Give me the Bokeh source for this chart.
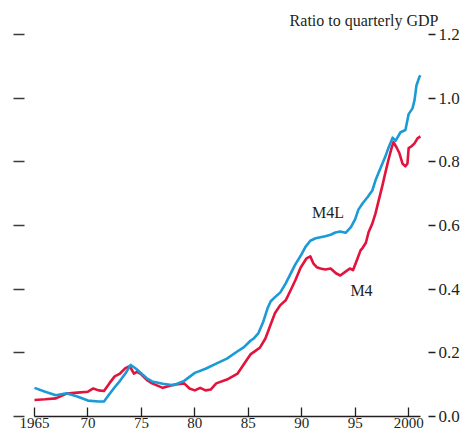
from bokeh.plotting import figure
from bokeh.models import Range1d, LinearAxis, FixedTicker, Label
from bokeh.embed import file_html
from bokeh.resources import INLINE

# ---- data ----
m4l_years = [1965.0, 1966.0, 1967.0, 1968.0, 1969.0, 1970.0, 1971.0, 1971.5, 1972.0, 1972.5,
             1973.0, 1973.5, 1974.0, 1974.5, 1975.0, 1975.5, 1976.0, 1977.0, 1978.0, 1979.0,
             1980.0, 1981.0, 1982.0, 1983.0, 1984.0, 1984.6, 1985.2, 1985.5, 1985.95, 1986.4,
             1986.8, 1987.1, 1987.5, 1988.0, 1988.5, 1988.95, 1989.4, 1989.9, 1990.35, 1990.8,
             1991.3, 1991.75, 1992.2, 1992.7, 1993.15, 1993.6, 1994.1, 1994.6, 1995.0, 1995.3,
             1995.7, 1996.15, 1996.6, 1996.9, 1997.4, 1997.8, 1998.1, 1998.5, 1998.77, 1999.24,
             1999.7, 2000.0, 2000.36, 2000.55, 2000.73, 2001.0, 2001.1]
m4l_values = [0.090, 0.078, 0.067, 0.073, 0.063, 0.050, 0.047, 0.047, 0.070, 0.092,
              0.112, 0.135, 0.162, 0.150, 0.135, 0.120, 0.110, 0.103, 0.098, 0.112,
              0.137, 0.150, 0.166, 0.182, 0.205, 0.218, 0.238, 0.245, 0.262, 0.298,
              0.340, 0.362, 0.375, 0.390, 0.418, 0.448, 0.478, 0.505, 0.533, 0.552,
              0.560, 0.563, 0.566, 0.571, 0.578, 0.581, 0.577, 0.595, 0.620, 0.650,
              0.670, 0.689, 0.710, 0.742, 0.783, 0.815, 0.843, 0.876, 0.866, 0.893,
              0.900, 0.950, 0.968, 0.994, 1.040, 1.066, 1.072]

m4_years = [1965.0, 1966.0, 1967.0, 1968.0, 1969.0, 1970.0, 1970.5, 1971.0, 1971.5, 1972.0,
            1972.5, 1973.0, 1973.5, 1973.9, 1974.3, 1974.6, 1975.0, 1975.5, 1976.0, 1977.0,
            1978.0, 1979.0, 1979.5, 1980.0, 1980.5, 1981.0, 1981.5, 1982.0, 1983.0, 1984.0,
            1984.6, 1985.2, 1985.7, 1986.1, 1986.6, 1987.1, 1987.5, 1988.0, 1988.5, 1988.95,
            1989.4, 1989.9, 1990.2, 1990.45, 1990.8, 1991.1, 1991.4, 1991.75, 1992.2, 1992.7,
            1993.2, 1993.6, 1994.1, 1994.5, 1994.8, 1995.2, 1995.5, 1995.7, 1996.0, 1996.25,
            1996.6, 1996.9, 1997.2, 1997.55, 1997.8, 1998.1, 1998.4, 1998.58, 1998.86, 1999.14,
            1999.42, 1999.7, 1999.89, 2000.0, 2000.27, 2000.55, 2000.83, 2001.1]
m4_values = [0.052, 0.054, 0.057, 0.072, 0.075, 0.078, 0.088, 0.082, 0.080, 0.104,
             0.126, 0.135, 0.152, 0.158, 0.135, 0.140, 0.132, 0.115, 0.104, 0.090,
             0.100, 0.104, 0.088, 0.082, 0.090, 0.082, 0.085, 0.104, 0.116, 0.135,
             0.165, 0.195, 0.207, 0.217, 0.245, 0.290, 0.325, 0.350, 0.365, 0.396,
             0.428, 0.468, 0.484, 0.497, 0.503, 0.480, 0.469, 0.465, 0.462, 0.465,
             0.450, 0.443, 0.455, 0.465, 0.460, 0.495, 0.522, 0.530, 0.546, 0.579,
             0.606, 0.638, 0.679, 0.726, 0.763, 0.805, 0.843, 0.862, 0.846, 0.827,
             0.795, 0.786, 0.795, 0.843, 0.849, 0.858, 0.874, 0.880]

x_ticks = [1965, 1970, 1975, 1980, 1985, 1990, 1995, 2000]
x_tick_labels = ["1965", "70", "75", "80", "85", "90", "95", "2000"]
y_ticks = [0.0, 0.2, 0.4, 0.6, 0.8, 1.0, 1.2]
y_tick_labels = ["0.0", "0.2", "0.4", "0.6", "0.8", "1.0", "1.2"]
series_names = ["M4L", "M4"]
unit_text = "Ratio to quarterly GDP"

# ---- layout ----
W, H = 466, 434
PXY = 10.69          # px per year
PXV = 318.3          # px per unit
X_AT_1965 = 34       # canvas px
Y_AT_0 = 416         # canvas px

x_start = 1965 - X_AT_1965 / PXY
x_end = 1965 + (W - X_AT_1965) / PXY
y_start = -(H - Y_AT_0) / PXV
y_end = Y_AT_0 / PXV

FONT = "Liberation Serif"
INK = "#231f20"
BLUE = "#1b9ad6"
RED = "#e2133d"

p = figure(width=W, height=H, x_range=Range1d(x_start, x_end), y_range=Range1d(y_start, y_end),
           x_axis_type=None, y_axis_type=None, toolbar_location=None, output_backend="svg",
           min_border=0, min_border_left=0, min_border_right=0, min_border_top=0, min_border_bottom=0)
p.outline_line_color = None
p.background_fill_color = "white"
p.border_fill_color = "white"

# bottom axis
xa = LinearAxis(fixed_location=0.0, ticker=FixedTicker(ticks=x_ticks),
                major_label_overrides={t: l for t, l in zip(x_ticks, x_tick_labels)},
                bounds=(1965, m4l_years[-1]))
xa.axis_line_color = INK
xa.axis_line_width = 1.3
xa.major_tick_line_color = INK
xa.major_tick_line_width = 1.3
xa.major_tick_in = 9
xa.major_tick_out = 0
xa.minor_tick_line_color = None
xa.major_label_standoff = 1
xa.major_label_text_font = FONT
xa.major_label_text_font_size = "15px"
xa.major_label_text_color = INK
p.add_layout(xa, "below")

# left axis: ticks only
left_loc = 1965 - 21 / PXY
ya = LinearAxis(fixed_location=left_loc, ticker=FixedTicker(ticks=y_ticks))
ya.axis_line_color = None
ya.major_tick_line_color = "#3a3a3a"
ya.major_tick_line_width = 1.3
ya.major_tick_in = 11
ya.major_tick_out = 0
ya.minor_tick_line_color = None
ya.major_label_text_color = None
p.add_layout(ya, "left")

# right axis: ticks + labels
right_loc = 1965 + 401 / PXY
ra = LinearAxis(fixed_location=right_loc, ticker=FixedTicker(ticks=y_ticks),
                major_label_overrides={t: l for t, l in zip(y_ticks, y_tick_labels)})
ra.axis_line_color = None
ra.major_tick_line_color = INK
ra.major_tick_line_width = 1.3
ra.major_tick_in = 7
ra.major_tick_out = 0
ra.minor_tick_line_color = None
ra.major_label_standoff = 3
ra.major_label_text_font = FONT
ra.major_label_text_font_size = "17px"
ra.major_label_text_color = INK
p.add_layout(ra, "right")

# series
p.line(m4_years, m4_values, line_color=RED, line_width=2.6, line_join="round")
p.line(m4l_years, m4l_values, line_color=BLUE, line_width=2.6, line_join="round")

# labels
p.add_layout(Label(x=1992.46, y=0.64, text=series_names[0], text_font=FONT, text_font_size="16px",
                   text_color=INK, text_align="center", text_baseline="middle"))
p.add_layout(Label(x=1995.59, y=0.395, text=series_names[1], text_font=FONT, text_font_size="16px",
                   text_color=INK, text_align="center", text_baseline="middle"))
p.add_layout(Label(x=2002.79, y=1.245, text=unit_text, text_font=FONT, text_font_size="16px",
                   text_color=INK, text_align="right", text_baseline="middle"))

open("out.html", "w").write(file_html(p, INLINE))
